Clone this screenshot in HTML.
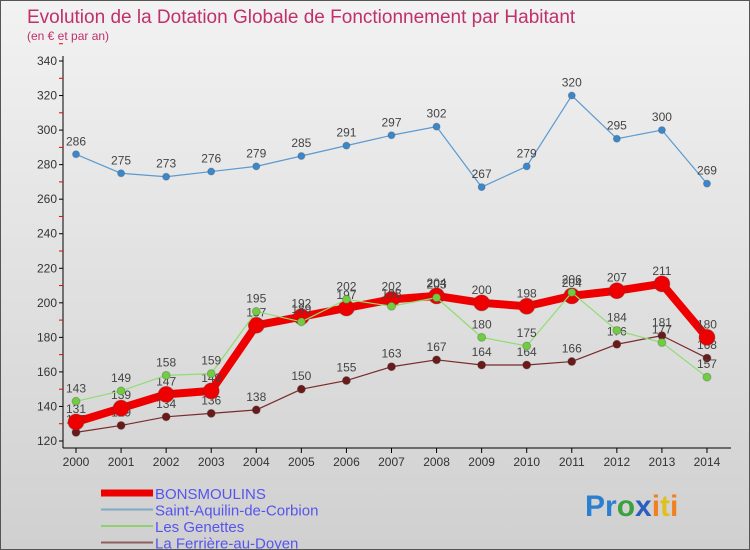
<!DOCTYPE html>
<html><head><meta charset="utf-8"><style>
body{margin:0}
#wrap{position:relative;width:748px;height:548px;border:1px solid #555;background:linear-gradient(#f2f2f2,#d0d0d0);font-family:"Liberation Sans",sans-serif;overflow:hidden}
</style></head><body>
<div id="wrap">
<svg id="svg" width="748" height="548">
<text x="26" y="22" font-size="19" fill="#c0306a">Evolution de la Dotation Globale de Fonctionnement par Habitant</text>
<text x="26" y="39" font-size="12" fill="#c0306a">(en € et par an)</text>
<g id="axes"></g><g id="series"></g><g id="legend"></g>
<text x="584" y="515" font-size="30" font-weight="bold"><tspan fill="#2a7fd0">Pr</tspan><tspan fill="#3aa040">o</tspan><tspan fill="#2a5fc0">x</tspan><tspan fill="#f08020">i</tspan><tspan fill="#e0c020">t</tspan><tspan fill="#f08020">i</tspan></text>
</svg>
</div>
<script>
const years=[2000,2001,2002,2003,2004,2005,2006,2007,2008,2009,2010,2011,2012,2013,2014];
const yTicks=[120,140,160,180,200,220,240,260,280,300,320,340];
const bons=[131,139,147,149,187,192,197,202,204,200,198,204,207,211,180];
const aquilin=[286,275,273,276,279,285,291,297,302,267,279,320,295,300,269];
const genettes=[143,149,158,159,195,189,202,198,203,180,175,206,184,177,157];
const ferriere=[125,129,134,136,138,150,155,163,167,164,164,166,176,181,168];
const NS='http://www.w3.org/2000/svg';
const x=i=>75+i*45.07;
const y=v=>440-(v-120)*380/220;
function mk(t,a,p){const e=document.createElementNS(NS,t);for(const k in a)e.setAttribute(k,a[k]);p.appendChild(e);return e;}
const ax=document.getElementById('axes');
let yl=mk('line',{x1:62,y1:55,x2:62,y2:447,stroke:'#000'},ax);


let xl=mk('line',{x1:62,y1:447,x2:730,y2:447,stroke:'#000'},ax);


yTicks.forEach(v=>{
  mk('line',{x1:58,y1:y(v),x2:62,y2:y(v),stroke:'#000'},ax);
  mk('line',{x1:58,y1:y(v+10),x2:62,y2:y(v+10),stroke:'#e00'},ax);
  const t=mk('text',{x:56,y:y(v)+4,'font-size':12,'text-anchor':'end',fill:'#333'},ax);
  t.textContent=v;
  
  
});
years.forEach((yr,i)=>{
  mk('line',{x1:x(i),y1:447,x2:x(i),y2:452,stroke:'#000'},ax);
  const t=mk('text',{x:x(i),y:465,'font-size':12,'text-anchor':'middle',fill:'#333'},ax);
  t.textContent=yr;
  
  
});
const sg=document.getElementById('series');
function draw(data,color,lw,r,dot,name){
  const g=mk('g',{},sg);
  
  
  const pl=mk('polyline',{points:data.map((v,i)=>x(i)+','+y(v)).join(' '),fill:'none',stroke:color,'stroke-width':lw,'stroke-linejoin':'round'},g);
  
  
  data.forEach((v,i)=>{
    const c=mk('circle',{cx:x(i),cy:y(v),r:r,fill:dot,stroke:'#444','stroke-opacity':0.3},g);
    
    
    const t=mk('text',{x:x(i),y:y(v)-9,'font-size':12,'text-anchor':'middle',fill:'#444'},g);
    t.textContent=v;
    
    
  });
}
draw(aquilin,'#5a9ad0',1.2,3.5,'#3a88cc','saint-aquilin');
draw(ferriere,'#7a2a2a',1.2,4,'#6a1a1a','la-ferriere');
draw(bons,'#ee0000',8,8,'#ee0000','bonsmoulins');
draw(genettes,'#90dd70',1.2,4,'#70cc40','les-genettes');
const lg=document.getElementById('legend');
const items=[['BONSMOULINS','#ee0000',7],['Saint-Aquilin-de-Corbion','#80a8c8',2],['Les Genettes','#90d070',2],['La Ferrière-au-Doyen','#906060',2]];
items.forEach((it,i)=>{
  const yy=492+i*16.5;
  const l=mk('line',{x1:100,y1:yy,x2:152,y2:yy,stroke:it[1],'stroke-width':it[2]},lg);
  
  
  const t=mk('text',{x:154,y:yy+6,'font-size':15,fill:'#5555ee'},lg);
  t.textContent=it[0];
  
  
});
</script>
</body></html>
